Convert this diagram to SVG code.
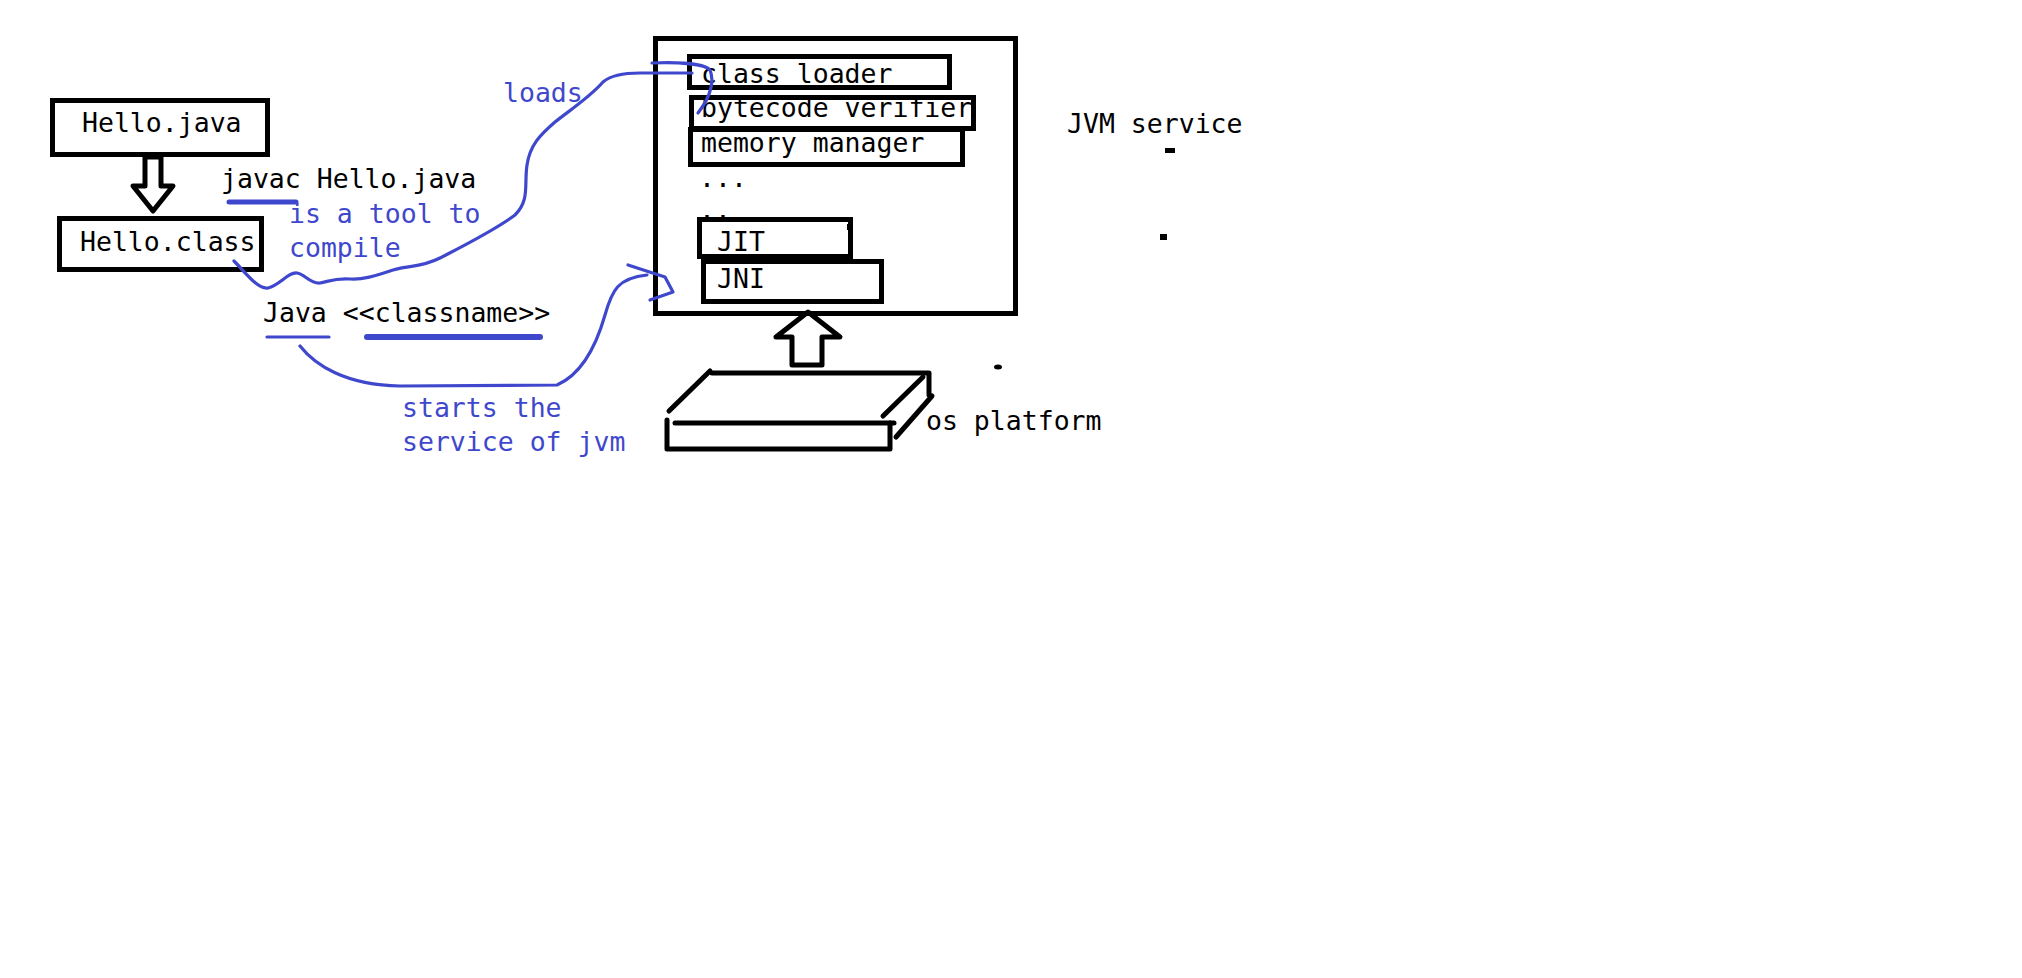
<svg xmlns="http://www.w3.org/2000/svg" width="2022" height="978" viewBox="0 0 2022 978">
<style>
text{font-family:"DejaVu Sans Mono","Liberation Mono",monospace;font-size:26.5px;fill:#000}
.b{fill:#3f48cc}
.box{fill:#fff;stroke:#000;stroke-width:5}
.ln{fill:none;stroke:#000;stroke-width:5;stroke-linecap:round;stroke-linejoin:round}
.bl{fill:none;stroke:#3f48cc;stroke-width:3.2;stroke-linecap:round;stroke-linejoin:round}
</style>
<rect width="2022" height="978" fill="#fff"/>
<g id="hello-java"><rect class="box" x="52.5" y="100.5" width="215" height="54"/><text x="82" y="132">Hello.java</text></g>
<g id="hello-class"><rect class="box" x="59.5" y="218.5" width="202" height="51"/><text x="80" y="251">Hello.class</text></g>
<g id="jvm">
<rect class="box" x="655.5" y="38.5" width="360" height="275"/>
<text x="1067" y="133">JVM service</text>
<g id="class-loader"><rect class="box" x="689.5" y="56.5" width="260" height="31"/><text x="701" y="83">class loader</text></g>
<g id="bytecode-verifier"><rect class="box" x="691.5" y="97.5" width="282" height="31"/><text x="701" y="117">bytecode verifier</text></g>
<g id="memory-manager"><rect class="box" x="690.5" y="129.5" width="272" height="35"/><text x="701" y="152">memory manager</text></g>
<text x="699" y="187">...</text>
<text x="699" y="219">..</text>
<g id="jit"><rect class="box" x="699.5" y="219.5" width="151" height="37"/><text x="717" y="251">JIT</text><rect x="847" y="224" width="3" height="6" fill="#000"/></g>
<g id="jni"><rect class="box" x="703.5" y="261.5" width="178" height="40"/><text x="717" y="288">JNI</text></g>
</g>
<g id="os-platform">
<path class="ln" d="M712,373 L929,373 L929,395"/>
<path class="ln" d="M710,371 L669,411"/>
<path class="ln" d="M923,377 L883,416"/>
<path class="ln" d="M932,396 L896,437"/>
<path class="ln" d="M675,423 L894,423"/>
<path class="ln" d="M667,420 L667,449 L890,449 L890,423"/>
<text x="926" y="430">os platform</text>
</g>
<g id="marks">
<ellipse cx="998" cy="367" rx="4" ry="2.5" fill="#000"/>
<rect x="1165" y="148" width="10" height="5" fill="#000"/>
<rect x="1160" y="234" width="7" height="6" fill="#000"/>
</g>
<g id="labels">
<text x="221" y="188">javac Hello.java</text>
<text class="b" x="289" y="223">is a tool to</text>
<text class="b" x="289" y="257">compile</text>
<text x="263" y="322">Java &lt;&lt;classname&gt;&gt;</text>
<text class="b" x="503" y="102">loads</text>
<text class="b" x="402" y="417">starts the</text>
<text class="b" x="402" y="451">service of jvm</text>
</g>
<g id="connectors">
<polygon class="ln" fill="#fff" points="145,157 145,186 133,186 153,211 173,186 161,186 161,157"/>
<polygon class="ln" fill="#fff" points="808,312 840,337 822,337 822,365 792,365 792,337 776,337"/>
<path class="bl" style="stroke-width:5" d="M229,202 L296,202"/>
<path class="bl" d="M267,337 L329,337"/>
<path class="bl" style="stroke-width:6" d="M367,337 L540,337"/>
<path class="bl" d="M234,261 C245,272 258,290 268,288 C280,285 288,272 297,273 C305,274 310,284 320,283 C330,281 335,278 350,279 C362,280 375,276 393,270 C410,265 420,268 440,258 C465,245 495,230 515,215 C530,200 524,185 527,165 C530,145 540,135 555,122 C570,110 590,97 603,82 C610,76 620,73 640,73 L692,73"/>
<path class="bl" d="M652,63 C680,62 705,64 710,70 C714,80 712,95 698,113"/>
<path class="bl" d="M300,346 C315,365 345,385 400,386 L557,385 C580,375 595,350 605,315 C612,290 618,278 647,275"/>
<path class="bl" d="M628,265 L665,277 L673,292 L650,300"/>
</g>
</svg>
